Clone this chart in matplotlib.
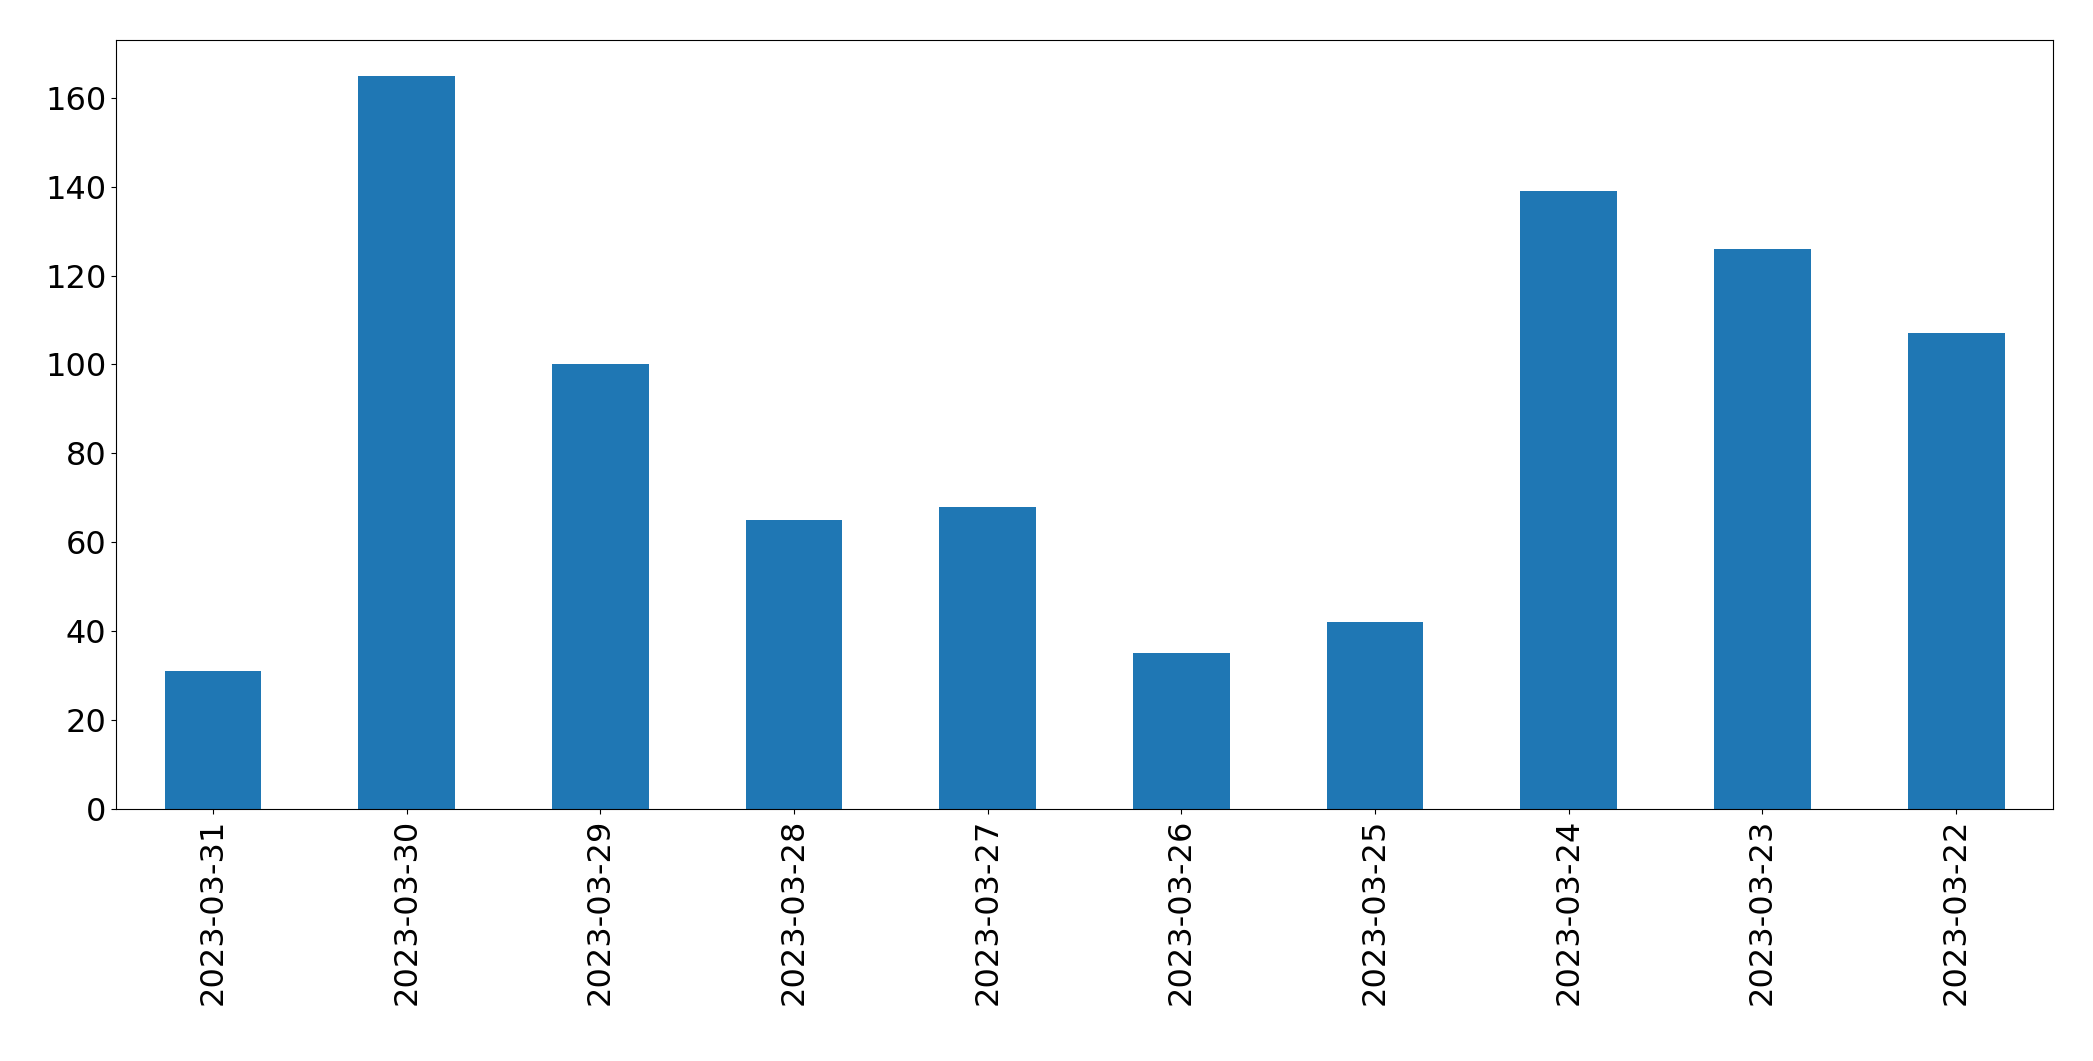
import matplotlib
matplotlib.use("Agg")
import matplotlib.pyplot as plt

dates = ["2023-03-31","2023-03-30","2023-03-29","2023-03-28","2023-03-27",
         "2023-03-26","2023-03-25","2023-03-24","2023-03-23","2023-03-22"]
counts = [31, 165, 100, 65, 68, 35, 42, 139, 126, 107]

fig = plt.figure(figsize=(20.93, 10.61), dpi=100)
ax = fig.add_axes([87/1568, 1-606/795, (1538-87)/1568, (606-30)/795])
x = range(len(dates))
ax.bar(x, counts, width=0.5, color="#1f77b4")
ax.set_xlim(-0.5, len(dates)-0.5)
ax.set_ylim(0, 173)
ax.set_xticks(list(x))
ax.set_xticklabels(dates, rotation=90)
ax.tick_params(labelsize=23)
fig.savefig("out.png", dpi=100)
